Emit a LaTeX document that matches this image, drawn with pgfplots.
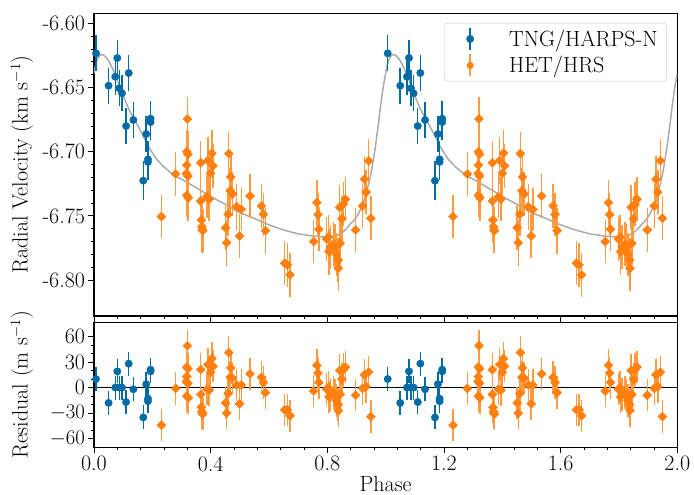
\documentclass[border=0pt]{standalone}
\usepackage{pgfplots}
\pgfplotsset{compat=1.18}
\usepackage{pgfplotstable}
\definecolor{cblue}{HTML}{006BA4}
\definecolor{corange}{HTML}{FF800E}
\definecolor{cgray}{HTML}{ABABAB}

\pgfplotstableread{
x rv erv res eres
0.007 -6.6234 0.014 10 14
0.050 -6.6486 0.014 -18 14
0.073 -6.6416 0.014 0 14
0.080 -6.6270 0.014 19 14
0.087 -6.6506 0.014 0 14
0.096 -6.6545 0.014 0 14
0.110 -6.6800 0.014 -17 14
0.119 -6.6387 0.014 28 14
0.135 -6.6753 0.014 -2 14
0.169 -6.7226 0.015 -35 14
0.179 -6.6862 0.014 4 14
0.185 -6.7059 0.014 -13 14
0.185 -6.7080 0.014 -16 14
0.194 -6.6743 0.014 21 14
0.194 -6.6769 0.014 19 14
}\tng

\pgfplotstableread{
x rv erv res eres
0.231 -6.7506 0.017 -44 19
0.280 -6.7174 0.017 -1 19
0.320 -6.6745 0.017 49 19
0.318 -6.7000 0.017 24 19
0.322 -6.7020 0.018 22 19
0.318 -6.7105 0.017 13 19
0.317 -6.7170 0.018 7 19
0.322 -6.7190 0.017 5 19
0.318 -6.7340 0.017 -10 19
0.323 -6.7360 0.018 -12 19
0.366 -6.7086 0.017 21 19
0.366 -6.7384 0.017 -8 19
0.368 -6.7532 0.018 -23 19
0.370 -6.7584 0.017 -28 19
0.371 -6.7610 0.018 -30 19
0.373 -6.7615 0.017 -31 19
0.387 -6.7350 0.017 -2 19
0.391 -6.7068 0.018 27 19
0.395 -6.7370 0.017 -3 19
0.400 -6.7168 0.017 18 19
0.404 -6.7012 0.018 34 19
0.408 -6.7111 0.017 25 19
0.451 -6.7592 0.017 -18 19
0.455 -6.7709 0.018 -30 19
0.460 -6.7488 0.017 -7 19
0.462 -6.7015 0.017 41 19
0.467 -6.7304 0.018 12 19
0.469 -6.7197 0.017 23 19
0.475 -6.7330 0.017 11 19
0.489 -6.7428 0.018 3 19
0.499 -6.7657 0.017 -19 19
0.505 -6.7449 0.017 3 19
0.535 -6.7345 0.017 16 19
0.574 -6.7423 0.017 12 19
0.581 -6.7488 0.017 6 19
0.588 -6.7615 0.018 -6 19
0.654 -6.7869 0.017 -26 19
0.663 -6.7882 0.017 -26 19
0.672 -6.7960 0.017 -33 19
0.753 -6.7700 0.017 -4 19
0.764 -6.7397 0.018 26 19
0.768 -6.7490 0.017 17 19
0.771 -6.7604 0.017 6 19
0.798 -6.7680 0.017 -2 19
0.804 -6.7665 0.017 0 19
0.806 -6.7779 0.018 -11 19
0.811 -6.7740 0.017 -8 19
0.821 -6.7719 0.017 -6 19
0.826 -6.7745 0.018 -9 19
0.831 -6.7800 0.017 -15 19
0.837 -6.7845 0.017 -20 19
0.838 -6.7908 0.018 -27 19
0.842 -6.7433 0.017 20 19
0.844 -6.7714 0.017 -8 19
0.850 -6.7522 0.018 10 19
0.855 -6.7410 0.017 21 19
0.862 -6.7371 0.017 24 19
0.897 -6.7610 0.017 -9 19
0.921 -6.7423 0.017 -1 19
0.927 -6.7215 0.018 15 19
0.933 -6.7315 0.017 1 19
0.942 -6.7071 0.017 18 19
0.949 -6.7519 0.017 -34 19
}\het

\pgfplotstableread{
x y
0.000 -6.6390
0.005 -6.6330
0.010 -6.6290
0.015 -6.6265
0.020 -6.6250
0.026 -6.6243
0.033 -6.6248
0.040 -6.6262
0.048 -6.6285
0.055 -6.6312
0.066 -6.6365
0.078 -6.6430
0.089 -6.6500
0.100 -6.6565
0.112 -6.6630
0.123 -6.6685
0.135 -6.6735
0.146 -6.6780
0.158 -6.6830
0.169 -6.6880
0.180 -6.6930
0.192 -6.6980
0.215 -6.7060
0.238 -6.7115
0.261 -6.7160
0.284 -6.7195
0.306 -6.7222
0.350 -6.7280
0.409 -6.7360
0.450 -6.7410
0.495 -6.7470
0.550 -6.7520
0.600 -6.7570
0.650 -6.7610
0.700 -6.7640
0.750 -6.7657
0.790 -6.7665
0.820 -6.7660
0.840 -6.7645
0.855 -6.7623
0.867 -6.7595
0.878 -6.7565
0.890 -6.7540
0.905 -6.7490
0.918 -6.7430
0.927 -6.7370
0.935 -6.7305
0.942 -6.7250
0.947 -6.7200
0.953 -6.7130
0.960 -6.7030
0.965 -6.6960
0.970 -6.6870
0.976 -6.6770
0.981 -6.6670
0.987 -6.6570
0.992 -6.6490
0.996 -6.6440
1.000 -6.6390
}\model

\newcommand{\bigfont}{\fontsize{22}{26}\selectfont}

\pgfplotsset{
  common/.style={
    scale only axis, width=583.3pt,
    xmin=0, xmax=2,
    xtick={0,0.4,0.8,1.2,1.6,2.0},
    minor x tick num=4,
    tick align=outside, xtick pos=lower, ytick pos=left,
    major tick length=5.5pt, minor tick length=3pt,
    every tick/.style={black, line width=0.9pt},
    every minor tick/.style={black, line width=0.7pt},
    axis line style={black, line width=1.1pt},
    tick label style={font=\bigfont},
    every axis y label/.style={at={(axis description cs:-0.1234,0.5)}, anchor=center, rotate=90, font=\bigfont},
    every axis x label/.style={at={(axis description cs:0.5,0)}, anchor=center, yshift=-37pt, font=\bigfont},
  },
  tngstyle/.style={only marks, mark=*, mark size=3.7pt, color=cblue,
    error bars/.cd, y dir=both, y explicit, error mark=none,
    error bar style={line width=1.5pt, cblue}},
  hetstyle/.style={only marks, mark=square*, mark size=3.2pt, mark options={rotate=45}, color=corange,
    error bars/.cd, y dir=both, y explicit, error mark=none,
    error bar style={line width=1.5pt, corange!80!white}},
}

\begin{document}
\begin{tikzpicture}
\path[use as bounding box] (-94pt,13.3pt) rectangle (600pt,-481.7pt);
\begin{axis}[common,
  at={(0pt,0pt)}, anchor=north west,
  height=302.7pt,
  ymin=-6.828, ymax=-6.5922,
  xticklabels={},
  ytick={-6.80,-6.75,-6.70,-6.65,-6.60},
  yticklabels={-6.80,-6.75,-6.70,-6.65,-6.60},
  minor y tick num=4,
  ylabel={Radial Velocity (km s$^{-1}$)},
  legend style={at={(0.982,0.968)}, anchor=north east, draw=black!20, rounded corners=3pt,
    fill=white, font=\bigfont, inner xsep=7pt, inner ysep=4pt, row sep=3pt,
    nodes={inner sep=2pt, anchor=west}},
  legend cell align=left,
]
\addplot[cgray, line width=1.5pt, forget plot] table[x=x, y=y]{\model};
\addplot[cgray, line width=1.5pt, forget plot] table[x expr=\thisrow{x}+1, y=y]{\model};
\addplot[legend image code/.code={
    \path[draw=none, fill=none] (0pt,0pt) -- (56pt,0pt);
    \draw[cblue, line width=1.5pt] (19pt,-11pt) -- (19pt,11pt);
    \fill[cblue] (19pt,0pt) circle (3.7pt);}, tngstyle]
  table[x=x, y=rv, y error=erv]{\tng};
\addlegendentry{TNG/HARPS-N}
\addplot[forget plot, tngstyle] table[x expr=\thisrow{x}+1, y=rv, y error=erv]{\tng};
\addplot[legend image code/.code={
    \path[draw=none, fill=none] (0pt,0pt) -- (56pt,0pt);
    \draw[corange!80!white, line width=1.5pt] (19pt,-11pt) -- (19pt,11pt);
    \fill[corange] (19pt,4.5pt) -- (23.5pt,0pt) -- (19pt,-4.5pt) -- (14.5pt,0pt) -- cycle;}, hetstyle]
  table[x=x, y=rv, y error=erv]{\het};
\addlegendentry{HET/HRS}
\addplot[forget plot, hetstyle] table[x expr=\thisrow{x}+1, y=rv, y error=erv]{\het};
\end{axis}

\begin{axis}[common,
  at={(0pt,-309.4pt)}, anchor=north west,
  height=124.6pt,
  ymin=-70, ymax=76,
  xticklabels={0.0,0.4,0.8,1.2,1.6,2.0},
  ytick={-60,-30,0,30,60},
  yticklabels={$-60$,$-30$,0,30,60},
  minor y tick num=2,
  xlabel={Phase},
  ylabel={Residual (m s$^{-1}$)},
]
\addplot[black, line width=1.6pt, forget plot] coordinates {(0,0) (2,0)};
\addplot[tngstyle] table[x=x, y=res, y error=eres]{\tng};
\addplot[tngstyle] table[x expr=\thisrow{x}+1, y=res, y error=eres]{\tng};
\addplot[hetstyle] table[x=x, y=res, y error=eres]{\het};
\addplot[hetstyle] table[x expr=\thisrow{x}+1, y=res, y error=eres]{\het};
\end{axis}
\end{tikzpicture}
\end{document}
